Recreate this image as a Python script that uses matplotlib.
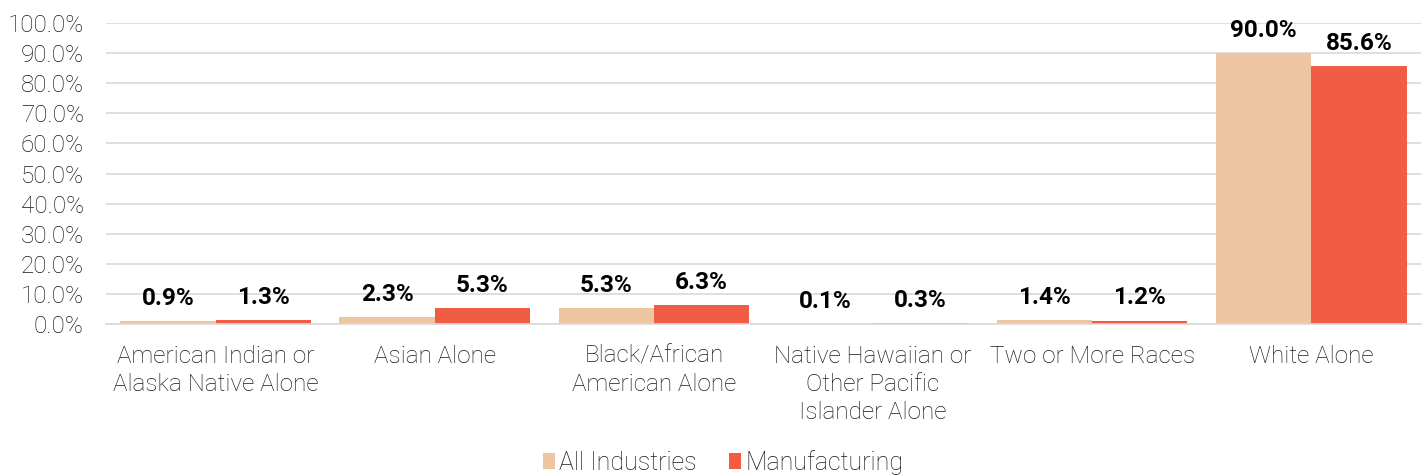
import numpy as np
from matplotlib import pyplot as plt

plt.rcParams['font.family'] = ['Roboto', 'DejaVu Sans']

categories = ["American Indian or\nAlaska Native Alone", "Asian Alone",
              "Black/African\nAmerican Alone", "Native Hawaiian or\nOther Pacific\nIslander Alone",
              "Two or More Races", "White Alone"]
all_industries = [0.9, 2.3, 5.3, 0.1, 1.4, 90.0]
manufacturing = [1.3, 5.3, 6.3, 0.3, 1.2, 85.6]
series_names = ["All Industries", "Manufacturing"]
colors = ["#EDC5A1", "#F05C44"]

fig = plt.figure(figsize=(14.23, 4.76), dpi=100)
ax = fig.add_axes([0.0745, 0.319, 0.924, 0.633])

x = np.arange(len(categories))
w = 0.435
b1 = ax.bar(x - w / 2, all_industries, w, color=colors[0], label=series_names[0], zorder=2)
b2 = ax.bar(x + w / 2, manufacturing, w, color=colors[1], label=series_names[1], zorder=2)

for bars, vals in [(b1, all_industries), (b2, manufacturing)]:
    for rect, v in zip(bars, vals):
        ax.annotate(f"{v:.1f}%", (rect.get_x() + rect.get_width() / 2, v),
                    xytext=(0, 8), textcoords="offset points", ha="center", va="bottom",
                    fontsize=17.5, fontweight="bold", color="black")

ax.set_xlim(-0.5, len(categories) - 0.5)
ax.set_ylim(0, 100)
ax.set_yticks(np.arange(0, 101, 10))
ax.set_yticklabels([f"{t:.1f}%" for t in np.arange(0, 101, 10)], fontweight="light")
ax.set_xticks(x)
ax.set_xticklabels(categories, fontweight="light", linespacing=1.27)
ax.tick_params(axis="both", length=0, labelsize=17.5, colors="#1a1a1a")
ax.tick_params(axis="y", pad=16)
ax.tick_params(axis="x", pad=15)
ax.grid(axis="y", color="#d9d9d9", linewidth=1.2, zorder=0)
for s in ["top", "right", "left"]:
    ax.spines[s].set_visible(False)
ax.spines["bottom"].set_color("#d9d9d9")
ax.spines["bottom"].set_linewidth(1.2)

fig.legend(loc="lower center", bbox_to_anchor=(0.508, -0.045), ncol=2, frameon=False,
           handlelength=0.5, handleheight=0.6, handletextpad=0.15,
           columnspacing=1.3, labelcolor="#1a1a1a", prop={"weight": "light", "size": 18})

plt.savefig("out.png")
